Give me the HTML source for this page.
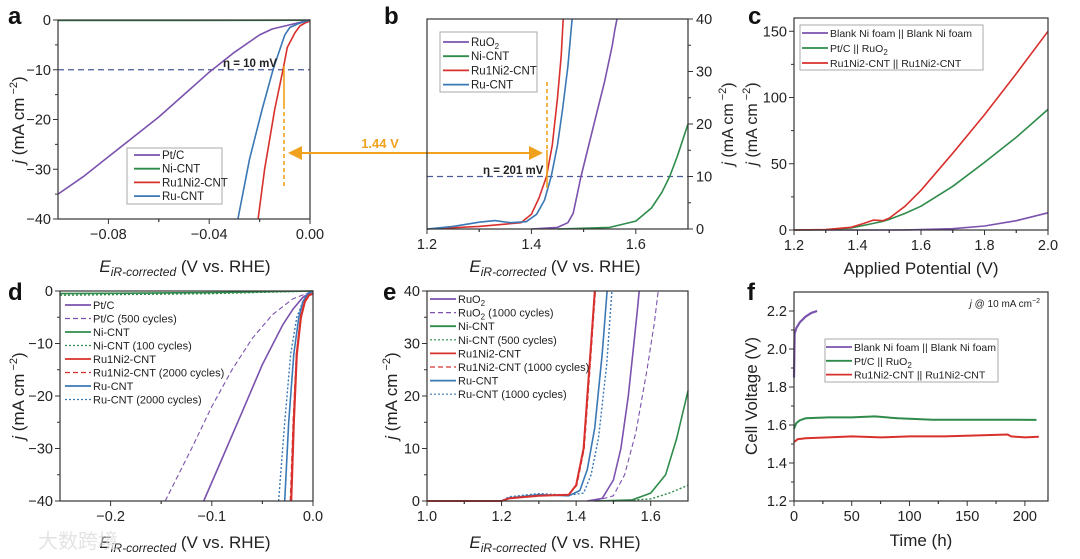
<!DOCTYPE html>
<html><head><meta charset="utf-8"><style>
html,body{margin:0;padding:0;background:#fff;}
svg{display:block;font-family:"Liberation Sans","Noto Sans CJK SC",sans-serif;}
</style></head><body>
<svg id="fig" width="1080" height="559" viewBox="0 0 1080 559"></svg>
<script>
// ---- Data ----
// panel a: HER polarization
const aPtX=[-0.1,-0.09,-0.08,-0.07,-0.06,-0.05,-0.04,-0.03,-0.02,-0.015,-0.01,-0.005,0];
const aPtY=[-35,-31.5,-27.5,-23.5,-19.5,-15,-10.5,-6.5,-3,-1.8,-1.2,-0.6,0];
const aNiX=[-0.1,-0.05,0];
const aNiY=[-0.1,-0.1,-0.05];
const aRuNiX=[-0.0206,-0.018,-0.014,-0.0107,-0.009,-0.006,-0.004,-0.002,0];
const aRuNiY=[-40,-30,-18,-10,-5.5,-2.6,-1.2,-0.6,-0.2];
const aRuX=[-0.0286,-0.024,-0.019,-0.0147,-0.01,-0.008,-0.005,-0.002,0];
const aRuY=[-40,-28,-18,-10,-3,-1.5,-0.8,-0.3,0];
// panel b: OER polarization
const bRuNiX=[1.2,1.3,1.38,1.4,1.415,1.429,1.44,1.45,1.457,1.461];
const bRuNiY=[0,0.5,1.2,2.8,6,10,16,25,33,40];
const bRuX=[1.2,1.25,1.3,1.33,1.36,1.39,1.41,1.425,1.438,1.45,1.46,1.47,1.478];
const bRuY=[0,0.5,1.3,1.6,1.2,1.4,2.8,5.5,10,16,23,31,40];
const bRuO2X=[1.4,1.45,1.47,1.48,1.495,1.51,1.525,1.54,1.555,1.56,1.564];
const bRuO2Y=[0,0.3,1.2,3,10,16,22,28,35,38,40];
const bNiX=[1.45,1.55,1.6,1.63,1.65,1.665,1.68,1.7];
const bNiY=[0,0.3,1.5,4,7,10,14,20];
// panel c: two-electrode polarization
const cX=[1.2,1.3,1.38,1.42,1.45,1.48,1.5,1.55,1.6,1.7,1.8,1.9,2.0];
const cRuNiY=[0,0.3,2,5,7.5,7,9,18,30,58,87,118,150];
const cPtY=[0,0.2,1.5,3.5,5,6.5,8,12.5,18,33,51,70,91];
const cBlankY=[0,0,0,0,0,0,0,0.1,0.3,1,3,7,13];
// panel d: HER stability
const dPtX=[-0.108,-0.09,-0.07,-0.05,-0.03,-0.02,-0.01,0];
const dPtY=[-40,-32,-23,-14,-6.5,-3.5,-1.2,0];
const dPtCycX=[-0.146,-0.12,-0.1,-0.08,-0.06,-0.04,-0.02,0];
const dPtCycY=[-40,-30,-22,-15,-9,-4.5,-1.5,0];
const dNiX=[-0.25,-0.1,0];
const dNiY=[-0.5,-0.3,0];
const dNiCycY=[-0.8,-0.5,0];
const dRuNiX=[-0.0215,-0.019,-0.016,-0.012,-0.008,-0.004,0];
const dRuNiY=[-40,-25,-12,-5,-2,-0.8,-0.5];
const dRuNiCycX=[-0.0225,-0.0198,-0.0165,-0.0125,-0.0085,-0.0045,0];
const dRuX=[-0.028,-0.024,-0.019,-0.014,-0.01,-0.005,0];
const dRuY=[-40,-25,-12,-5,-2,-0.5,0];
const dRuCycX=[-0.034,-0.028,-0.022,-0.016,-0.01,-0.005,0];
// panel e: OER stability
const eRuNiX=[1.0,1.2,1.22,1.3,1.38,1.4,1.42,1.43,1.44,1.45];
const eRuNiY=[0,0,0.5,1,1.2,3,10,20,30,40];
const eRuNiCycX=[1.0,1.2,1.22,1.3,1.38,1.402,1.422,1.432,1.442,1.452];
const eRuX=[1.0,1.2,1.22,1.3,1.38,1.41,1.43,1.45,1.47,1.483];
const eRuY=[0,0,0.6,1.2,1.0,2,6,14,28,40];
const eRuCycX=[1.0,1.2,1.22,1.3,1.38,1.42,1.44,1.46,1.482,1.496];
const eRuCycY=[0,0,0.8,1.4,1.1,1.5,5,12,26,40];
const eRuO2X=[1.43,1.47,1.5,1.52,1.54,1.555,1.565,1.569];
const eRuO2Y=[0,0.5,4,10,20,30,37,40];
const eRuO2CycX=[1.45,1.5,1.53,1.56,1.59,1.61,1.62];
const eRuO2CycY=[0,1,5,13,25,34,40];
const eNiX=[1.45,1.55,1.6,1.64,1.67,1.7];
const eNiY=[0,0.2,1.5,5,12,21];
const eNiCycX=[1.5,1.6,1.65,1.7];
const eNiCycY=[0,0.4,1.5,3];
// panel f: chronopotentiometry
const fBlankX=[0,0.5,2,5,10,15,20];
const fBlankY=[1.85,2.08,2.11,2.14,2.17,2.19,2.2];
const fPtX=[0,2,5,10,30,50,70,90,120,150,180,210];
const fPtY=[1.58,1.61,1.625,1.635,1.64,1.64,1.645,1.635,1.628,1.628,1.628,1.627];
const fRuNiX=[0,3,10,30,50,75,100,130,160,185,188,200,212];
const fRuNiY=[1.51,1.525,1.53,1.535,1.54,1.535,1.54,1.54,1.545,1.55,1.54,1.535,1.538];
// tick labels
const aXTicks=[-0.08,-0.04,0.00]; const aXLabels=["−0.08","−0.04","0.00"];
const aYTicks=[0,-10,-20,-30,-40]; const aYLabels=["0","−10","−20","−30","−40"];
const bXTicks=[1.2,1.4,1.6]; const bXLabels=["1.2","1.4","1.6"];
const bYTicks=[0,10,20,30,40]; const bYLabels=["0","10","20","30","40"];
const cXTicks=[1.2,1.4,1.6,1.8,2.0]; const cXLabels=["1.2","1.4","1.6","1.8","2.0"];
const cYTicks=[0,50,100,150]; const cYLabels=["0","50","100","150"];
const dXTicks=[-0.2,-0.1,0.0]; const dXLabels=["−0.2","−0.1","0.0"];
const eXTicks=[1.0,1.2,1.4,1.6]; const eXLabels=["1.0","1.2","1.4","1.6"];
const fXTicks=[0,50,100,150,200]; const fXLabels=["0","50","100","150","200"];
const fYTicks=[1.2,1.4,1.6,1.8,2.0,2.2]; const fYLabels=["1.2","1.4","1.6","1.8","2.0","2.2"];

const NS="http://www.w3.org/2000/svg";
const svg=document.getElementById('fig');
const C={pu:"#7b52ae",gr:"#2e8b4a",rd:"#d8302c",bl:"#3a78b5",or:"#f0a21e",dk:"#4a5a9a"};
function mk(tag,attrs,parent){const e=document.createElementNS(NS,tag);for(const k in attrs)e.setAttribute(k,attrs[k]);(parent||svg).appendChild(e);return e;}
function txt(s,x,y,opt,parent){const t=mk('text',Object.assign({x:x,y:y,'font-size':14,fill:'#222'},opt||{}),parent);t.textContent=s;return t;}
function axes(name,L,R,T,B,x0,x1,y0,y1){
  const g=mk('g',{});
  
  
  const sx=v=>L+(v-x0)/(x1-x0)*(R-L);
  const sy=v=>B-(v-y0)/(y1-y0)*(B-T);
  return {g,sx,sy,L,R,T,B};
}
function frame(p){const r=mk('rect',{x:p.L,y:p.T,width:p.R-p.L,height:p.B-p.T,fill:'none',stroke:'#333','stroke-width':1.2},p.g);
  }
function xt(p,vals,labels,minorStep){
  vals.forEach((v,i)=>{const x=p.sx(v);mk('line',{x1:x,x2:x,y1:p.B,y2:p.B+5,stroke:'#333'},p.g);
    const t=txt(labels[i],x,p.B+20,{'text-anchor':'middle','font-size':14.5},p.g);
    });
  if(minorStep){vals.forEach(v=>{const x=p.sx(v+minorStep);if(x>p.L&&x<p.R)mk('line',{x1:x,x2:x,y1:p.B,y2:p.B+3,stroke:'#333'},p.g);
    const x2=p.sx(v-minorStep);if(x2>p.L&&x2<p.R)mk('line',{x1:x2,x2:x2,y1:p.B,y2:p.B+3,stroke:'#333'},p.g);});}
}
function yt(p,vals,labels,minorStep,right){
  const ax=right?p.R:p.L, d=right?1:-1;
  vals.forEach((v,i)=>{const y=p.sy(v);mk('line',{x1:ax,x2:ax+5*d,y1:y,y2:y,stroke:'#333'},p.g);
    const t=txt(labels[i],right?ax+8:ax-7,y+5,{'text-anchor':right?'start':'end','font-size':14.5},p.g);
    });
  if(minorStep){vals.forEach(v=>{const y=p.sy(v+minorStep);if(y>p.T&&y<p.B)mk('line',{x1:ax,x2:ax+3*d,y1:y,y2:y,stroke:'#333'},p.g);});}
}
function line(p,xs,ys,color,name,dash,w){
  let d='';xs.forEach((x,i)=>{let X=p.sx(x),Y=p.sy(ys[i]);X=Math.max(p.L,Math.min(p.R,X));Y=Math.max(p.T,Math.min(p.B,Y));d+=(i?'L':'M')+X.toFixed(1)+' '+Y.toFixed(1);});
  const e=mk('path',{d:d,fill:'none',stroke:color,'stroke-width':w||1.6,'stroke-linejoin':'round'},p.g);
  if(dash)e.setAttribute('stroke-dasharray',dash);
  return e;
}
function legend(p,x,y,step,items,box,fs){
  const g=mk('g',{},p.g);
  
  if(box){const r=mk('rect',{x:box[0],y:box[1],width:box[2],height:box[3],fill:'#fff',stroke:'#aaa','stroke-width':1},g);}
  items.forEach((it,i)=>{const yy=y+i*step;
    const l=mk('line',{x1:x,x2:x+26,y1:yy,y2:yy,stroke:it[1],'stroke-width':it[2]?1.2:1.8},g);
    if(it[2])l.setAttribute('stroke-dasharray',it[2]);
    const t=txt('',x+28,yy+4,{'font-size':fs||11.5},g);t.innerHTML=it[0];
    });
}
function letter(s,x,y){const t=txt(s,x,y,{'font-size':24,'font-weight':'bold',fill:'#111'});}
function xtitle(html,x,y,name){const t=txt('',x,y,{'text-anchor':'middle','font-size':17});t.innerHTML=html;}
function ytitle(html,x,y,name,fs){const t=txt('',0,0,{'text-anchor':'middle','font-size':fs||17,transform:`translate(${x},${y}) rotate(-90)`});t.innerHTML=html;}
const EIR='<tspan font-style="italic">E</tspan><tspan font-style="italic" font-size="12" dy="4">iR-corrected</tspan><tspan dy="-4"> (V vs. RHE)</tspan>';
const JT='<tspan font-style="italic">j</tspan> (mA cm<tspan font-size="11" dy="-7"> −2</tspan><tspan dy="7">)</tspan>';
const DS="5,3", DT="2,2";

// ---- Panel a ----
let p=axes('panel-a-chart',58,310,20,219,-0.1,0,-40,0);
mk('line',{x1:p.L,x2:p.R,y1:p.sy(-10),y2:p.sy(-10),stroke:C.dk,'stroke-dasharray':'6,4','stroke-width':1.2},p.g);
line(p,aPtX,aPtY,C.pu,'pt-c-curve');line(p,aNiX,aNiY,C.gr,'ni-cnt-curve');line(p,aRuNiX,aRuNiY,C.rd,'ru1ni2-cnt-curve');line(p,aRuX,aRuY,C.bl,'ru-cnt-curve');
frame(p);xt(p,aXTicks,aXLabels,0.02);yt(p,aYTicks,aYLabels,5);
legend(p,134,155,13.7,[['Pt/C',C.pu],['Ni-CNT',C.gr],['Ru1Ni2-CNT',C.rd],['Ru-CNT',C.bl]],[127,148,95,56]);
txt('η = 10 mV',223,67,{'font-size':11.5,'font-weight':'bold'},p.g);
mk('line',{x1:284,x2:284,y1:66,y2:105,stroke:C.or,'stroke-width':1.6});
mk('line',{x1:284,x2:284,y1:105,y2:188,stroke:C.or,'stroke-width':1.6,'stroke-dasharray':'4,3'});
letter('a',8,24);xtitle(EIR,185,272,'x-axis-title-a');ytitle(JT,24,120,'y-axis-title-a');
// ---- arrow ----
const ar=mk('g',{});
mk('line',{x1:300,x2:530,y1:153,y2:153,stroke:C.or,'stroke-width':2},ar);
mk('polygon',{points:'288,153 302,146 302,160',fill:C.or},ar);mk('polygon',{points:'543,153 529,146 529,160',fill:C.or},ar);
txt('1.44 V',380,148,{'font-size':13,'font-weight':'bold',fill:C.or,'text-anchor':'middle'},ar);
// ---- Panel b ----
p=axes('panel-b-chart',427,688,19,229,1.2,1.7,0,40);
mk('line',{x1:p.L,x2:p.R,y1:p.sy(10),y2:p.sy(10),stroke:C.dk,'stroke-dasharray':'6,4','stroke-width':1.2},p.g);
line(p,bRuO2X,bRuO2Y,C.pu,'ruo2-curve');line(p,bNiX,bNiY,C.gr,'ni-cnt-curve');line(p,bRuNiX,bRuNiY,C.rd,'ru1ni2-cnt-curve');line(p,bRuX,bRuY,C.bl,'ru-cnt-curve');
frame(p);xt(p,bXTicks,bXLabels,0.1);yt(p,bYTicks,bYLabels,5,true);
legend(p,443,42,14.2,[['RuO<tspan font-size="8" dy="3">2</tspan>',C.pu],['Ni-CNT',C.gr],['Ru1Ni2-CNT',C.rd],['Ru-CNT',C.bl]],[440,32,97,60]);
txt('η = 201 mV',483,174,{'font-size':11.5,'font-weight':'bold'},p.g);
mk('line',{x1:547,x2:547,y1:82,y2:150,stroke:C.or,'stroke-width':1.6,'stroke-dasharray':'4,3'});
mk('line',{x1:547,x2:547,y1:150,y2:188,stroke:C.or,'stroke-width':1.6});
letter('b',384,24);xtitle(EIR,555,272,'x-axis-title-b');ytitle(JT,733,124,'y-axis-title-b',16);
// ---- Panel c ----
p=axes('panel-c-chart',794,1048,18,230,1.2,2.0,0,160);
line(p,cX,cBlankY,C.pu,'blank-ni-foam-curve');line(p,cX,cPtY,C.gr,'pt-c-ruo2-curve');line(p,cX,cRuNiY,C.rd,'ru1ni2-cnt-pair-curve');
frame(p);xt(p,cXTicks,cXLabels,0.1);yt(p,cYTicks,cYLabels,25);
legend(p,802,33,15,[['Blank Ni foam || Blank Ni foam',C.pu],['Pt/C || RuO<tspan font-size="8" dy="3">2</tspan>',C.gr],['Ru1Ni2-CNT || Ru1Ni2-CNT',C.rd]],[800,25,183,45],10.5);
letter('c',748,24);xtitle('Applied Potential (V)',921,274,'x-axis-title-c');ytitle(JT,757,124,'y-axis-title-c',16);
// ---- Panel d ----
p=axes('panel-d-chart',60,313,291,501,-0.25,0,-40,0);
line(p,dNiX,dNiCycY,C.gr,'ni-cnt-100-cycles-curve',DT,1.4);line(p,dNiX,dNiY,C.gr,'ni-cnt-curve');
line(p,dPtCycX,dPtCycY,C.pu,'pt-c-500-cycles-curve',DS,1.1);line(p,dPtX,dPtY,C.pu,'pt-c-curve');
line(p,dRuCycX,dRuY,C.bl,'ru-cnt-2000-cycles-curve',DT,1.4);line(p,dRuX,dRuY,C.bl,'ru-cnt-curve');
line(p,dRuNiX,dRuNiY,C.rd,'ru1ni2-cnt-curve',null,2.2);line(p,dRuNiCycX,dRuNiY,C.rd,'ru1ni2-cnt-2000-cycles-curve',DS,1.1);
frame(p);xt(p,dXTicks,dXLabels,0.05);yt(p,aYTicks,aYLabels,5);
legend(p,65,305,13.5,[['Pt/C',C.pu],['Pt/C (500 cycles)',C.pu,DS],['Ni-CNT',C.gr],['Ni-CNT (100 cycles)',C.gr,DT],['Ru1Ni2-CNT',C.rd],['Ru1Ni2-CNT (2000 cycles)',C.rd,DS],['Ru-CNT',C.bl],['Ru-CNT (2000 cycles)',C.bl,DT]],null,11);
letter('d',8,300);xtitle(EIR,185,548,'x-axis-title-d');ytitle(JT,24,396,'y-axis-title-d');
// ---- Panel e ----
p=axes('panel-e-chart',427,688,291,501,1.0,1.7,0,40);
line(p,eNiCycX,eNiCycY,C.gr,'ni-cnt-500-cycles-curve',DT,1.4);line(p,eNiX,eNiY,C.gr,'ni-cnt-curve');
line(p,eRuO2CycX,eRuO2CycY,C.pu,'ruo2-1000-cycles-curve',DS,1.1);line(p,eRuO2X,eRuO2Y,C.pu,'ruo2-curve');
line(p,eRuCycX,eRuCycY,C.bl,'ru-cnt-1000-cycles-curve',DT,1.4);line(p,eRuX,eRuY,C.bl,'ru-cnt-curve');
line(p,eRuNiX,eRuNiY,C.rd,'ru1ni2-cnt-curve',null,2);line(p,eRuNiCycX,eRuNiY,C.rd,'ru1ni2-cnt-1000-cycles-curve',DS,1.1);
frame(p);xt(p,eXTicks,eXLabels,0.1);yt(p,bYTicks,bYLabels,5);
legend(p,430,299,13.6,[['RuO<tspan font-size="8" dy="3">2</tspan>',C.pu],['RuO<tspan font-size="8" dy="3">2</tspan><tspan dy="-3"> (1000 cycles)</tspan>',C.pu,DS],['Ni-CNT',C.gr],['Ni-CNT (500 cycles)',C.gr,DT],['Ru1Ni2-CNT',C.rd],['Ru1Ni2-CNT (1000 cycles)',C.rd,DS],['Ru-CNT',C.bl],['Ru-CNT (1000 cycles)',C.bl,DT]],null,11);
letter('e',383,300);xtitle(EIR,555,548,'x-axis-title-e');ytitle(JT,397,396,'y-axis-title-e');
// ---- Panel f ----
p=axes('panel-f-chart',794,1048,292,501,0,220,1.2,2.3);
line(p,fBlankX,fBlankY,C.pu,'blank-ni-foam-curve',null,2.2);line(p,fPtX,fPtY,C.gr,'pt-c-ruo2-curve',null,2);line(p,fRuNiX,fRuNiY,C.rd,'ru1ni2-cnt-pair-curve',null,2);
frame(p);xt(p,fXTicks,fXLabels,25);yt(p,fYTicks,fYLabels,0.1);
legend(p,826,347,13.8,[['Blank Ni foam || Blank Ni foam',C.pu],['Pt/C || RuO<tspan font-size="8" dy="3">2</tspan>',C.gr],['Ru1Ni2-CNT || Ru1Ni2-CNT',C.rd]],[825,339,173,43],10.5);
const jt=txt('',1040,307,{'font-size':10,'text-anchor':'end'});jt.innerHTML='<tspan font-style="italic">j</tspan> @ 10 mA cm<tspan font-size="7" dy="-4">−2</tspan>';

letter('f',747,300);xtitle('Time (h)',921,546,'x-axis-title-f');ytitle('Cell Voltage (V)',757,396,'y-axis-title-f',17);
// watermark
const wm=txt('大数跨境',38,548,{'font-size':20,fill:'#ddd',opacity:0.8});
</script>
</body></html>
